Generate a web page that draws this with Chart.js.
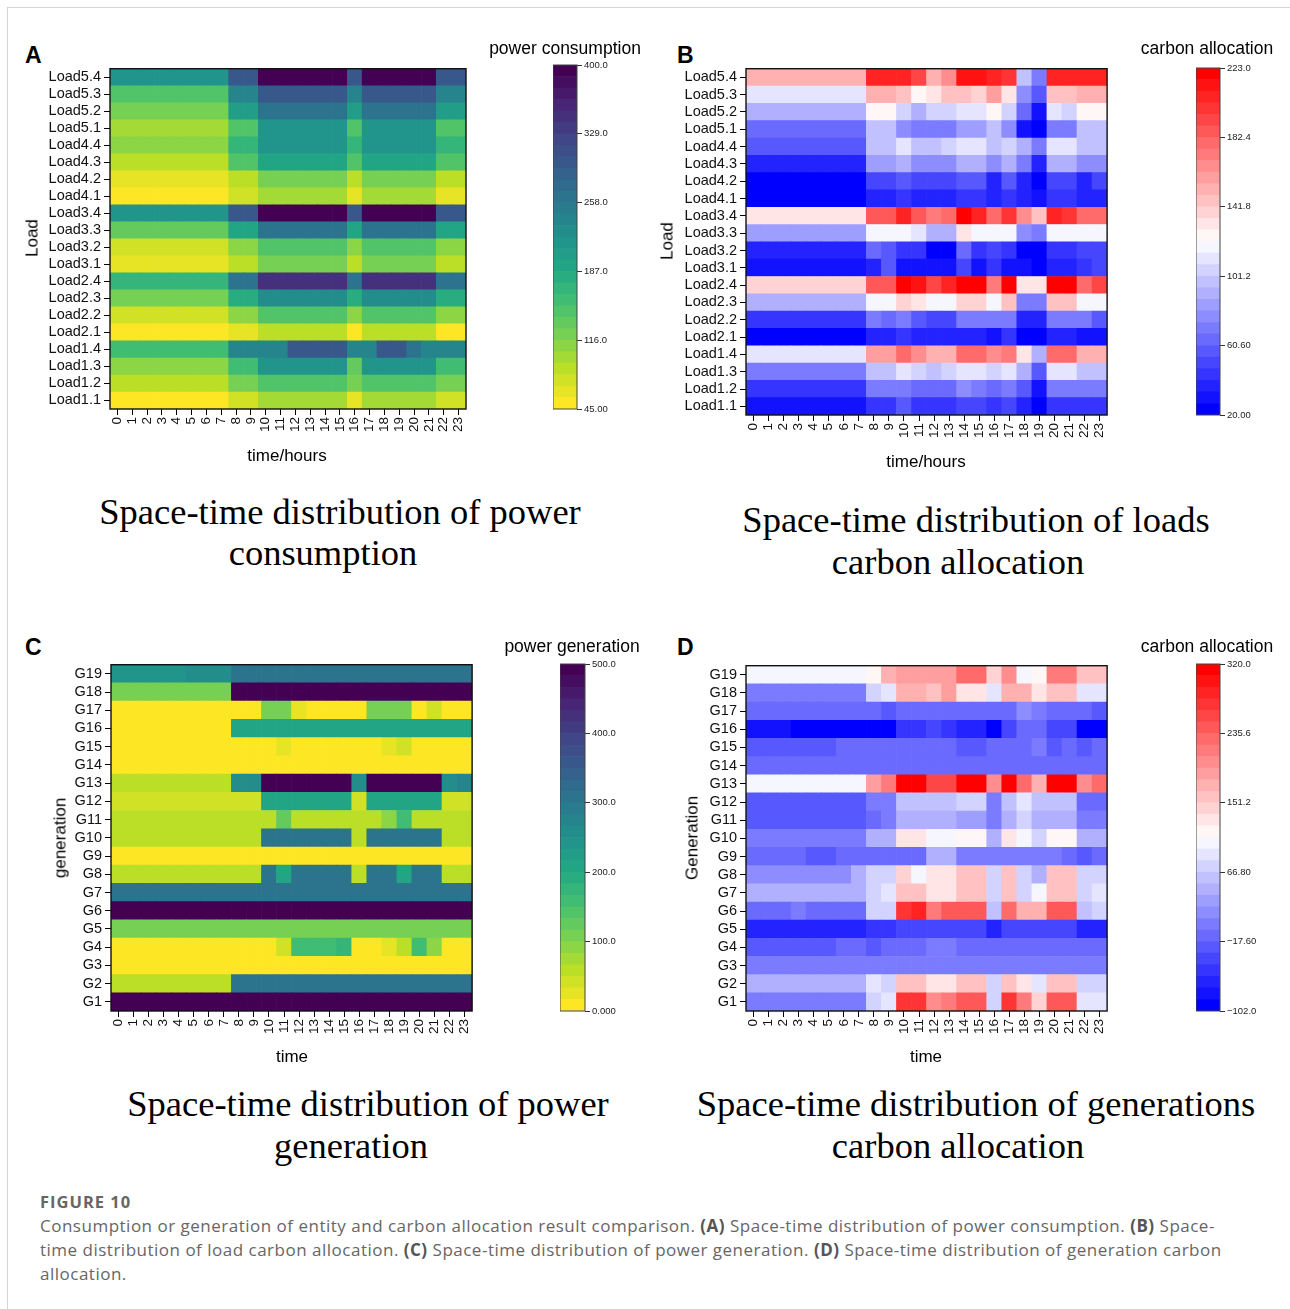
<!DOCTYPE html>
<html>
<head>
<meta charset="utf-8">
<script src="https://cdn.jsdelivr.net/npm/chart.js@4.4.0/dist/chart.umd.min.js"></script>
<style>
  body { margin: 0; width: 1290px; height: 1309px; background: #fff; position: relative; overflow: hidden;
         font-family: Arial, "Liberation Sans", sans-serif; color: #000; }
  .frame { position: absolute; left: 7px; top: 7px; right: -2px; bottom: -2px;
           border-left: 1px solid #d4d4d4; border-top: 1px solid #d4d4d4; }
  canvas { position: absolute; }
  .letter { position: absolute; font-weight: bold; font-size: 23px; line-height: 22px; }
  .mid { position: absolute; transform: translate(-50%, -50%); white-space: nowrap; line-height: 1; }
  .cbtitle { font-size: 17.5px; }
  .axtitle { font-size: 17px; }
  .ytitle { transform: translate(-50%, -50%) rotate(-90deg); }
  .sub { font-family: "Liberation Serif", "Times New Roman", serif; font-size: 36.5px; }
  .caption { position: absolute; left: 40px; font-family: "Open Sans", Lato, sans-serif; color: #666;
             font-size: 17px; letter-spacing: 0.5px; white-space: nowrap; line-height: 24px; }
  .caption b { color: #555; }
  .fig { position: absolute; left: 40px; top: 1190px; font-family: "Open Sans", sans-serif; font-weight: bold;
         color: #666; font-size: 16.5px; letter-spacing: 1px; line-height: 24px; }
</style>
</head>
<body>
<div class="frame"></div>

<div class="letter" style="left:25px;top:44px">A</div>
<div class="letter" style="left:677px;top:44px">B</div>
<div class="letter" style="left:25px;top:636px">C</div>
<div class="letter" style="left:677px;top:636px">D</div>

<canvas id="heatA" width="457" height="392" style="left:20px;top:57px"></canvas>
<canvas id="barA" width="74" height="364" style="left:553px;top:55px"></canvas>
<canvas id="heatB" width="462" height="398" style="left:656px;top:57px"></canvas>
<canvas id="barB" width="74" height="367" style="left:1196px;top:58px"></canvas>
<canvas id="heatC" width="462" height="398" style="left:21px;top:653px"></canvas>
<canvas id="barC" width="75" height="367" style="left:560px;top:654px"></canvas>
<canvas id="heatD" width="462" height="397" style="left:656px;top:654px"></canvas>
<canvas id="barD" width="74" height="367" style="left:1196px;top:654px"></canvas>

<div class="mid cbtitle" style="left:565px;top:49px">power consumption</div>
<div class="mid cbtitle" style="left:1207px;top:49px">carbon allocation</div>
<div class="mid cbtitle" style="left:572px;top:647px">power generation</div>
<div class="mid cbtitle" style="left:1207px;top:647px">carbon allocation</div>

<div class="mid axtitle" style="left:287px;top:455px">time/hours</div>
<div class="mid axtitle" style="left:926px;top:461px">time/hours</div>
<div class="mid axtitle" style="left:292px;top:1056px">time</div>
<div class="mid axtitle" style="left:926px;top:1056px">time</div>
<div class="mid axtitle ytitle" style="left:32px;top:238px">Load</div>
<div class="mid axtitle ytitle" style="left:667px;top:241px">Load</div>
<div class="mid axtitle ytitle" style="left:60px;top:838px">generation</div>
<div class="mid axtitle ytitle" style="left:692px;top:838px">Generation</div>

<div class="mid sub" style="left:340px;top:512px">Space-time distribution of power</div>
<div class="mid sub" style="left:323px;top:553px">consumption</div>
<div class="mid sub" style="left:976px;top:520px">Space-time distribution of loads</div>
<div class="mid sub" style="left:958px;top:562px">carbon allocation</div>
<div class="mid sub" style="left:368px;top:1104px">Space-time distribution of power</div>
<div class="mid sub" style="left:351px;top:1146px">generation</div>
<div class="mid sub" style="left:976px;top:1104px">Space-time distribution of generations</div>
<div class="mid sub" style="left:958px;top:1146px">carbon allocation</div>

<div class="fig">FIGURE 10</div>
<div class="caption" style="top:1214px">Consumption or generation of entity and carbon allocation result comparison. <b>(A)</b> Space-time distribution of power consumption. <b>(B)</b> Space-</div>
<div class="caption" style="top:1238px">time distribution of load carbon allocation. <b>(C)</b> Space-time distribution of power generation. <b>(D)</b> Space-time distribution of generation carbon</div>
<div class="caption" style="top:1262px">allocation.</div>

<script>
// Row and column labels
const hours = ['0','1','2','3','4','5','6','7','8','9','10','11','12','13','14','15','16','17','18','19','20','21','22','23'];
const loadRows = ['Load1.1','Load1.2','Load1.3','Load1.4','Load2.1','Load2.2','Load2.3','Load2.4',
                  'Load3.1','Load3.2','Load3.3','Load3.4','Load4.1','Load4.2','Load4.3','Load4.4',
                  'Load5.1','Load5.2','Load5.3','Load5.4'];
const genRows = ['G1','G2','G3','G4','G5','G6','G7','G8','G9','G10','G11','G12','G13','G14','G15','G16','G17','G18','G19'];

// (A) power consumption, one row per load (Load1.1 first), 24 hours each
const powerConsumption = [
  [47,47,47,47,47,47,47,47,72,72,100,100,100,100,100,100,66,100,100,100,100,100,72,72],
  [82,82,82,82,82,82,82,82,118,118,150,150,150,150,150,150,118,150,150,150,150,150,118,118],
  [106,106,106,106,106,106,106,106,160,160,215,215,215,215,215,215,135,215,215,215,215,215,160,160],
  [158,158,158,158,158,158,158,158,238,238,238,238,300,300,300,300,238,238,300,300,262,238,238,238],
  [47,47,47,47,47,47,47,47,60,60,85,85,85,85,85,85,55,85,85,85,85,85,55,55],
  [78,78,78,78,78,78,78,78,115,115,150,150,150,150,150,150,115,150,150,150,150,150,115,115],
  [125,125,125,125,125,125,125,125,185,185,228,228,228,228,228,228,185,228,228,228,228,228,185,185],
  [165,165,165,165,165,165,165,165,265,265,350,350,350,350,350,350,265,350,350,350,350,350,265,265],
  [68,68,68,68,68,68,68,68,90,90,122,122,122,122,122,122,90,122,122,122,122,122,90,90],
  [75,75,75,75,75,75,75,75,105,105,150,150,150,150,150,150,105,150,150,150,150,150,105,105],
  [135,135,135,135,135,135,135,135,195,195,265,265,265,265,265,265,195,265,265,265,265,265,195,195],
  [212,212,212,212,212,212,212,212,300,300,400,400,400,400,400,400,300,400,400,400,400,400,300,300],
  [47,47,47,47,47,47,47,47,70,70,97,97,97,97,97,97,65,97,97,97,97,97,65,65],
  [60,60,60,60,60,60,60,60,82,82,118,118,118,118,118,118,82,118,118,118,118,118,82,82],
  [88,88,88,88,88,88,88,88,145,145,195,195,195,195,195,195,145,195,195,195,195,195,145,145],
  [110,110,110,110,110,110,110,110,165,165,218,218,218,218,218,218,165,218,218,218,218,218,165,165],
  [100,100,100,100,100,100,100,100,150,150,215,215,215,215,215,215,150,215,215,215,215,215,150,150],
  [125,125,125,125,125,125,125,125,200,200,265,265,265,265,265,265,200,265,265,265,265,265,200,200],
  [150,150,150,150,150,150,150,150,235,235,300,300,300,300,300,300,235,300,300,300,300,300,235,235],
  [212,212,212,212,212,212,212,212,300,300,400,400,400,400,400,400,300,400,400,400,400,400,300,300]
];

// (B) load carbon allocation
const loadCarbon = [
  [33,33,33,33,33,33,33,33,43,43,54,43,43,43,49,49,43,52,35,20,47,47,43,43],
  [41,41,41,41,41,41,47,47,73,73,73,65,65,65,80,72,62,69,56,33,73,73,73,73],
  [69,69,69,69,69,69,69,69,96,96,111,103,96,106,111,111,106,112,88,56,111,111,96,96],
  [111,111,111,111,111,111,111,111,158,158,178,164,155,155,177,177,164,170,132,90,178,178,155,155],
  [20,20,20,20,20,26,26,26,35,35,41,35,35,35,39,39,33,41,20,20,39,39,33,33],
  [41,41,41,41,41,41,41,41,73,62,72,59,52,52,72,72,72,72,35,35,69,69,69,59],
  [91,91,91,91,91,91,91,91,118,118,138,132,118,118,140,140,118,142,73,73,142,142,118,118],
  [140,140,140,140,140,140,140,140,188,188,223,213,190,206,223,223,175,223,134,134,221,221,177,193],
  [30,30,30,30,30,30,30,30,40,54,32,32,28,28,49,33,47,33,28,22,35,35,41,52],
  [37,37,37,37,37,37,37,37,62,54,45,45,20,20,62,45,52,43,22,20,43,43,52,52],
  [81,81,81,81,81,81,81,81,118,118,118,111,88,88,130,118,118,118,77,69,118,118,118,118],
  [132,132,132,132,132,132,132,132,184,184,204,184,172,180,223,208,182,198,166,142,204,198,182,182],
  [20,20,20,20,20,20,20,20,38,38,43,39,39,39,43,43,39,43,37,29,41,41,39,39],
  [22,22,22,22,22,22,22,22,49,49,56,51,51,51,54,54,39,56,35,25,49,49,39,49],
  [35,35,35,35,35,35,40,40,82,82,88,80,80,80,90,90,80,89,72,39,88,88,80,80],
  [56,56,56,56,56,56,56,56,98,98,110,96,96,103,111,111,96,104,88,73,111,111,96,96],
  [67,67,67,67,67,67,67,67,96,96,77,69,69,73,82,82,96,77,33,20,72,72,96,96],
  [91,91,91,91,91,91,91,91,125,125,103,93,103,103,111,111,125,103,62,33,111,103,125,125],
  [111,111,111,111,111,111,111,111,155,155,142,125,134,143,146,140,158,132,77,54,142,142,155,155],
  [152,152,152,152,152,152,152,152,206,206,206,191,155,166,213,213,208,198,96,69,208,208,208,208]
];

// (C) power generation, G1 first
const powerGeneration = [
  [500,500,500,500,500,500,500,500,500,500,500,500,500,500,500,500,500,500,500,500,500,500,500,500],
  [52,52,52,52,52,52,52,52,305,305,305,305,305,305,305,305,305,305,305,305,305,305,305,305],
  [0,0,0,0,0,0,0,0,0,0,0,0,0,0,0,0,0,0,0,0,0,0,0,0],
  [0,0,0,0,0,0,0,0,0,0,0,35,160,160,150,175,0,15,25,50,160,95,0,0],
  [105,105,105,105,105,105,105,105,105,105,105,105,105,105,105,105,105,105,105,105,105,105,105,105],
  [500,500,500,500,500,500,500,500,500,500,500,500,500,500,500,500,500,500,500,500,500,500,500,500],
  [305,305,305,305,305,305,305,305,305,305,305,305,305,305,305,305,305,305,305,305,305,305,305,305],
  [52,52,52,52,52,52,52,52,52,52,305,210,305,305,305,305,52,305,305,210,305,305,52,52],
  [0,0,0,0,0,0,0,0,0,0,0,0,0,0,10,0,0,0,0,0,0,0,0,0],
  [55,55,55,55,55,55,55,55,55,55,305,305,305,305,305,305,55,305,305,305,305,305,55,55],
  [55,55,55,55,55,55,55,55,55,55,55,125,55,55,55,55,55,55,90,160,55,55,55,55],
  [40,40,40,40,40,40,40,40,40,40,215,215,215,215,215,215,35,215,215,215,215,215,40,40],
  [65,65,65,65,65,65,65,65,265,265,500,500,500,500,500,500,250,500,500,500,500,500,250,275],
  [0,0,0,0,0,0,0,0,0,0,0,0,0,0,0,0,0,0,0,0,0,0,0,0],
  [0,0,0,0,0,0,0,0,0,0,0,25,0,0,15,0,0,0,25,40,0,0,0,0],
  [0,0,0,0,0,0,0,0,205,205,205,205,205,205,205,205,205,205,205,205,205,205,205,205],
  [0,0,0,0,0,0,0,0,0,0,100,100,20,0,0,0,0,100,100,100,0,35,0,0],
  [105,105,105,105,105,105,105,105,500,500,500,500,500,500,500,500,500,500,500,500,500,500,500,500],
  [235,235,235,245,245,250,258,258,305,305,305,305,305,305,305,305,305,305,305,305,305,305,305,305]
];

// (D) generation carbon allocation
const genCarbon = [
  [8,8,8,8,8,8,8,8,71,88,267,267,197,212,240,240,71,267,212,151,245,245,88,88],
  [46,46,46,46,46,46,46,46,88,71,157,157,130,130,157,157,71,160,130,88,157,157,71,71],
  [-3,-3,-3,-3,-3,-3,-3,-3,-3,-3,-3,-3,-3,-3,-3,-3,-3,-3,-3,-3,-3,-3,-3,-3],
  [-22,-22,-22,-22,-22,-22,-9,-9,-22,-9,-9,-9,3,3,-5,-5,-5,-5,-5,-5,-5,-5,-5,-5],
  [-69,-69,-69,-69,-69,-69,-69,-69,-58,-58,-36,-36,-36,-36,-36,-36,-62,-36,-36,-36,-36,-36,-62,-62],
  [-13,-13,-13,0,-9,-9,-9,-9,71,71,272,290,212,240,240,240,56,234,179,179,237,237,56,76],
  [46,46,46,46,46,46,46,46,71,90,157,157,130,130,157,157,71,160,71,101,160,160,71,88],
  [20,20,20,20,20,20,20,39,71,71,151,101,135,135,157,157,71,160,71,39,160,160,71,71],
  [-13,-13,-13,-5,-18,-18,-5,-5,-5,-5,-5,-5,39,39,3,3,3,3,8,8,8,-5,-18,-5],
  [3,3,3,3,3,3,3,3,46,46,127,127,101,101,115,115,39,130,101,71,115,115,46,46],
  [-18,-18,-18,-18,-18,-18,-18,-18,-5,3,39,39,39,39,27,27,3,39,71,46,39,39,0,0],
  [-18,-18,-18,-18,-18,-18,-18,-18,8,8,56,56,56,56,71,71,0,56,88,56,56,56,-5,-5],
  [101,101,101,101,101,101,101,101,193,216,320,320,254,254,310,310,202,320,225,174,307,312,197,225],
  [-5,-5,-5,-5,-5,-5,-5,-5,-5,-5,-5,-5,-5,-5,-5,-5,-13,-5,-5,-5,-5,-5,-5,-5],
  [-22,-22,-22,-22,-22,-22,-9,-9,-9,-9,-9,-9,-9,-9,-22,-22,-9,-9,-9,2,-22,-9,-22,-9],
  [-85,-85,-85,-102,-102,-102,-102,-102,-102,-102,-49,-49,-36,-49,-62,-62,-102,-42,-13,-13,-42,-42,-102,-102],
  [-5,-5,-5,-5,-5,-5,-5,-5,-5,-22,-5,-5,-5,-5,-5,-5,-5,-5,22,3,-5,-5,-5,-22],
  [8,8,8,8,8,8,8,8,71,88,179,179,160,183,127,127,88,179,179,130,160,160,88,88],
  [101,101,101,101,101,101,101,101,115,179,193,193,193,193,225,225,151,202,101,115,212,212,157,157]
];

// Colour bar ranges and tick labels
const consumptionTicks = [45, 116, 187, 258, 329, 400];
const consumptionTickLabels = ['45.00', '116.0', '187.0', '258.0', '329.0', '400.0'];
const loadCarbonTicks = [20, 60.6, 101.2, 141.8, 182.4, 223];
const loadCarbonTickLabels = ['20.00', '60.60', '101.2', '141.8', '182.4', '223.0'];
const generationTicks = [0, 100, 200, 300, 400, 500];
const generationTickLabels = ['0.000', '100.0', '200.0', '300.0', '400.0', '500.0'];
const genCarbonTicks = [-102, -17.6, 66.8, 151.2, 235.6, 320];
const genCarbonTickLabels = ['\u2212102.0', '\u221217.60', '66.80', '151.2', '235.6', '320.0'];

const LEVELS = 30;

Chart.defaults.font.family = 'Arial, "Liberation Sans", sans-serif';
Chart.defaults.color = '#000';

// Colour maps
const viridisStops = ['#440154','#482475','#414487','#355f8d','#2a788e','#21918c','#22a884','#44bf70','#7ad151','#bddf26','#fde725'];

function hexToRgb(h) {
    return [parseInt(h.substr(1, 2), 16), parseInt(h.substr(3, 2), 16), parseInt(h.substr(5, 2), 16)];
}

function viridisR(t) {
    // reversed viridis: low = yellow, high = purple
    const s = (1 - t) * (viridisStops.length - 1);
    const i = Math.min(viridisStops.length - 2, Math.floor(s));
    const f = s - i;
    const a = hexToRgb(viridisStops[i]);
    const b = hexToRgb(viridisStops[i + 1]);
    const c = a.map((v, j) => Math.round(v + (b[j] - v) * f));
    return `rgb(${c[0]},${c[1]},${c[2]})`;
}

function bwr(t) {
    let r, g, b;
    if (t < 0.5) { r = g = Math.round(510 * t); b = 255; }
    else { r = 255; g = b = Math.round(255 * (2 - 2 * t)); }
    return `rgb(${r},${g},${b})`;
}

function levelColor(v, lo, hi, cmap) {
    let k = Math.floor((v - lo) / (hi - lo) * LEVELS);
    k = Math.max(0, Math.min(LEVELS - 1, k));
    return cmap(k / (LEVELS - 1));
}

// Draws a black frame around the plot area
const framePlugin = {
    id: 'frame',
    afterDatasetsDraw(chart, args, opts) {
        const a = chart.chartArea;
        const ctx = chart.ctx;
        ctx.save();
        ctx.strokeStyle = opts.color || '#111';
        ctx.lineWidth = opts.width || 1.3;
        ctx.strokeRect(a.left, a.top, a.right - a.left, a.bottom - a.top);
        ctx.restore();
    }
};

// Heatmap made of stacked bars: one dataset per row, one bar per hour
function drawHeatmap(canvasId, rowLabels, values, lo, hi, cmap) {
    const datasets = values.map((row, i) => ({
        label: rowLabels[i],
        data: row.map(() => 1),
        backgroundColor: row.map(v => levelColor(v, lo, hi, cmap)),
        borderWidth: 0,
        barPercentage: 1,
        categoryPercentage: 1
    }));

    return new Chart(document.getElementById(canvasId), {
        type: 'bar',
        data: { labels: hours, datasets: datasets },
        options: {
            responsive: false,
            animation: false,
            layout: { padding: { top: 10, right: 10, left: 0, bottom: 0 } },
            plugins: { legend: { display: false }, tooltip: { enabled: false }, frame: { width: 1.4 } },
            scales: {
                x: {
                    stacked: true,
                    grid: { drawOnChartArea: false, offset: false, tickLength: 6, color: '#000', tickWidth: 1 },
                    border: { display: false },
                    ticks: { font: { size: 13.5 }, maxRotation: 90, minRotation: 90, autoSkip: false, padding: 2, color: '#111' },
                    afterFit: function(scale) { scale.height = 40; }
                },
                y: {
                    stacked: true,
                    min: 0,
                    max: rowLabels.length,
                    grid: { drawOnChartArea: false, tickLength: 6, color: '#000', tickWidth: 1 },
                    border: { display: false },
                    ticks: {
                        font: { size: 14.5 },
                        padding: 3,
                        color: '#111',
                        autoSkip: false,
                        callback: function(value, index) { return rowLabels[index]; }
                    },
                    afterBuildTicks: function(scale) {
                        scale.ticks = rowLabels.map((_, i) => ({ value: i + 0.5 }));
                    },
                    afterFit: function(scale) { scale.width = 90; }
                }
            }
        },
        plugins: [framePlugin]
    });
}

// Colour bar: one floating bar per colour level
function drawColorbar(canvasId, lo, hi, cmap, tickValues, tickLabels) {
    const step = (hi - lo) / LEVELS;
    const datasets = [];
    for (let k = 0; k < LEVELS; k++) {
        datasets.push({
            data: [[lo + k * step, lo + (k + 1) * step]],
            backgroundColor: cmap(k / (LEVELS - 1)),
            borderWidth: 0,
            barPercentage: 1,
            categoryPercentage: 1,
            grouped: false
        });
    }

    return new Chart(document.getElementById(canvasId), {
        type: 'bar',
        data: { labels: [''], datasets: datasets },
        options: {
            responsive: false,
            animation: false,
            layout: { padding: { top: 10, right: 0, left: 0, bottom: 10 } },
            plugins: { legend: { display: false }, tooltip: { enabled: false }, frame: { color: '#444', width: 1 } },
            scales: {
                x: { display: false },
                y: {
                    position: 'right',
                    min: lo,
                    max: hi,
                    grid: { drawOnChartArea: false, tickLength: 5, color: '#333' },
                    border: { display: false },
                    ticks: {
                        font: { size: 9.5 },
                        padding: 2,
                        color: '#222',
                        autoSkip: false,
                        callback: function(value, index) { return tickLabels[index]; }
                    },
                    afterBuildTicks: function(scale) {
                        scale.ticks = tickValues.map(v => ({ value: v }));
                    },
                    afterFit: function(scale) { scale.width = 50; }
                }
            }
        },
        plugins: [framePlugin]
    });
}

drawHeatmap('heatA', loadRows, powerConsumption, 45, 400, viridisR);
drawColorbar('barA', 45, 400, viridisR, consumptionTicks, consumptionTickLabels);

drawHeatmap('heatB', loadRows, loadCarbon, 20, 223, bwr);
drawColorbar('barB', 20, 223, bwr, loadCarbonTicks, loadCarbonTickLabels);

drawHeatmap('heatC', genRows, powerGeneration, 0, 500, viridisR);
drawColorbar('barC', 0, 500, viridisR, generationTicks, generationTickLabels);

drawHeatmap('heatD', genRows, genCarbon, -102, 320, bwr);
drawColorbar('barD', -102, 320, bwr, genCarbonTicks, genCarbonTickLabels);
</script>
</body>
</html>
